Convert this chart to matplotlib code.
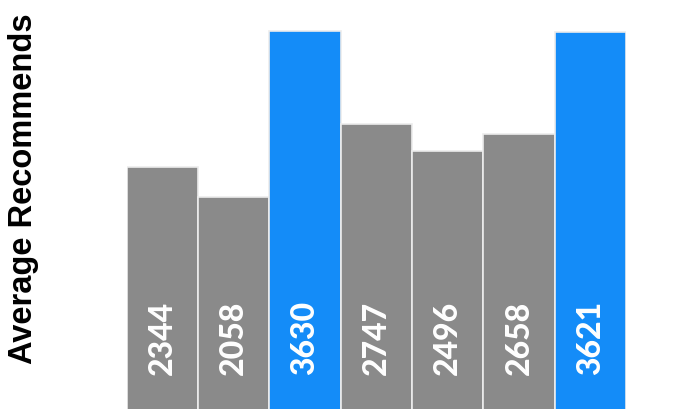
import matplotlib.pyplot as plt

values = [2344, 2058, 3630, 2747, 2496, 2658, 3621]
colors = ['#8a8a8a', '#8a8a8a', '#148cf8', '#8a8a8a', '#8a8a8a', '#8a8a8a', '#148cf8']
ylabel = "Average Recommends"

fig = plt.figure(figsize=(6.81, 4.09), dpi=100)
ax = fig.add_axes([126.5 / 681, 0, 499.5 / 681, 1])

x = range(len(values))
ax.bar(x, values, width=1.0, color=colors, edgecolor='#ececec', linewidth=1.2)

# value labels sit near the bottom of each bar
for i, v in enumerate(values):
    ax.text(i, 378, str(v), rotation=90, ha='center', va='bottom',
            color='white', fontsize=23, fontweight='black', family='Lato')

ax.set_xlim(-0.5, len(values) - 0.5)
ax.set_ylim(56.7, 3924)
ax.axis('off')

fig.text(24 / 681, 1 - 188.5 / 409, ylabel, rotation=90, ha='center', va='center',
         fontsize=23.5, fontweight='bold', family='Liberation Sans')

fig.savefig('out.png', dpi=100)
